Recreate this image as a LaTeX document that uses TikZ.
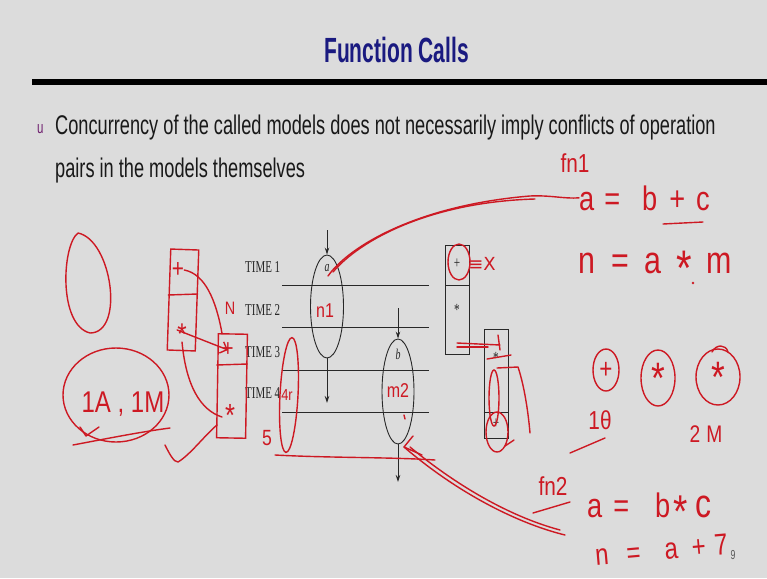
\documentclass[tikz,border=0pt]{standalone}
\usepackage{fontspec}
\usetikzlibrary{shapes.geometric,arrows.meta}
\newfontfamily\titlefont[FakeStretch=0.6]{Liberation Sans}
\newfontfamily\bodyfont[FakeStretch=0.674]{Liberation Sans}
\newfontfamily\timefont[FakeStretch=0.66]{Liberation Serif}
\newfontfamily\handfont[FakeStretch=0.8]{Liberation Sans}
\newfontfamily\symfont{DejaVu Sans}
\definecolor{bg}{RGB}{220,220,220}
\definecolor{navy}{RGB}{26,26,128}
\definecolor{pen}{RGB}{205,25,35}
\definecolor{bul}{RGB}{110,30,110}
\definecolor{prtc}{RGB}{40,40,40}
\newcommand{\hsz}[1]{\handfont\fontsize{#1}{#1}\selectfont}
\newcommand{\hstar}[2]{\raisebox{-#2}{\fontsize{#1}{#1}\selectfont *}}
\begin{document}
\begin{tikzpicture}[x=1pt,y=-1pt,
  ink/.style={draw=pen, line width=1.4pt, line cap=round, line join=round},
  hand/.style={text=pen, inner sep=0pt},
  timelbl/.style={font=\timefont\fontsize{16.6}{17}\selectfont, anchor=base west, inner sep=0pt, text=prtc},
  prt/.style={draw=prtc, line width=0.9pt},
  oval/.style={ellipse, draw=prtc, line width=0.9pt, inner sep=0pt},
  redoval/.style={ellipse, draw=pen, line width=1.4pt, inner sep=0pt},
  sym/.style={font=\timefont\fontsize{17}{17}\selectfont, inner sep=0pt, text=prtc},
  tip/.style={-{Stealth[length=7pt,width=4.5pt]}}
]
\fill[bg] (0,0) rectangle (767,578);
\useasboundingbox (0,0) rectangle (767,578);

% title and rule
\node[font=\titlefont\bfseries\fontsize{35}{35}\selectfont, text=navy, anchor=base, inner sep=0pt] (title) at (396.5,63) {Function Calls};
\fill[black] (32,79) rectangle (767,85);

% bullet text
\node[text=bul, font=\bodyfont\fontsize{17}{17}\selectfont, anchor=base west, inner sep=0pt] (bullet) at (37,133) {u};
\node[font=\bodyfont\fontsize{27}{27}\selectfont, anchor=base west, inner sep=0pt, text=black!90] (line1) at (55,134) {Concurrency of the called models does not necessarily imply conflicts of operation};
\node[font=\bodyfont\fontsize{27}{27}\selectfont, anchor=base west, inner sep=0pt, text=black!90] (line2) at (55,177) {pairs in the models themselves};

% printed diagram
\node[timelbl] (t1) at (245,272) {TIME 1};
\node[timelbl] (t2) at (245,315) {TIME 2};
\node[timelbl] (t3) at (245,357) {TIME 3};
\node[timelbl] (t4) at (245,398) {TIME 4};
\foreach \yy in {285,327.5,370,412} \draw[prt] (282,\yy) -- (429,\yy);

\node[oval, minimum width=33pt, minimum height=103pt] (e1) at (327,306.5) {};
\node[font=\timefont\itshape\fontsize{15}{15}\selectfont, inner sep=0pt, text=prtc] (la) at (327,268) {a};
\coordinate (e1in) at (327,230);
\coordinate (e1out) at (327,403);
\draw[prt,tip] (e1in) -- (e1.north);
\draw[prt,tip] (e1.south) -- (e1out);

\node[oval, minimum width=32pt, minimum height=105pt] (e2) at (398,391.5) {};
\node[font=\timefont\itshape\fontsize{15}{15}\selectfont, inner sep=0pt, text=prtc] (lb) at (398,354) {b};
\coordinate (e2in) at (398,308);
\coordinate (e2out) at (398,482);
\draw[prt,tip] (e2in) -- (e2.north);
\draw[prt,tip] (e2.south) -- (e2out);

\node[prt, rectangle, minimum width=23.5pt, minimum height=109pt, inner sep=0pt] (box1) at (457.5,299.5) {};
\draw[prt] (box1.west |- 0,285) -- (box1.east |- 0,285);
\node[sym] (plus1) at (457,264) {+};
\node[sym] (star1) at (457,310) {*};
\node[prt, rectangle, minimum width=24pt, minimum height=109pt, inner sep=0pt] (box2) at (496,383.5) {};
\draw[prt] (box2.west |- 0,412) -- (box2.east |- 0,412);
\node[sym] (star2) at (496,358) {*};
\node[sym] (plus2) at (496,424) {+};

% page number
\node[font=\bodyfont\fontsize{13}{13}\selectfont, text=black!65, inner sep=0pt] (pgno) at (733,555) {9};

% ---------- red annotations ----------
% left egg
\draw[ink] (78,233) .. controls (62,245) and (58,325) .. (90,333) .. controls (125,333) and (112,240) .. (78,233);
% 1A, 1M
\node[redoval, minimum width=106pt, minimum height=94pt] (c1a) at (116,395) {};
\node[hand, font=\hsz{30}] (t1a) at (123,404) {1A , 1M};
\draw[ink] (73,445) .. controls (110,438) and (140,432) .. (170,428);
\draw[ink] (80,427) -- (86,436) -- (99,427);

% left red boxes
\node[draw=pen, line width=1.4pt, rectangle, minimum width=28pt, minimum height=101pt, inner sep=0pt, rotate=-2] (rb1) at (183,300) {};
\draw[ink] (rb1.west |- 0,295) -- (rb1.east |- 0,294);
\node[hand, font=\hsz{26}] (rp1) at (178,270) {+};
\node[hand, font=\hsz{30}] (rs1) at (182,334) {*};
\node[draw=pen, line width=1.4pt, rectangle, minimum width=29pt, minimum height=104pt, inner sep=0pt, rotate=-1] (rb2) at (232,386) {};
\draw[ink] (rb2.west |- 0,365) -- (rb2.east |- 0,364);
\node[hand, font=\hsz{24}] (rp2) at (228,350) {+};
\node[hand, font=\hsz{32}] (rs2) at (230,415) {*};
\node[hand, font=\hsz{18}] (tN) at (230,308) {N};
\draw[ink] (rp1.east) .. controls (205,274) and (216,300) .. (rb2.north -| 222,0);
\draw[ink, -{Straight Barb[length=6pt]}] (rs1.west |- 0,330) -- (rp2.center);
\draw[ink] (182,342) .. controls (186,385) and (200,410) .. (222,417);
\draw[ink] (165,445) .. controls (170,455) and (174,462) .. (178,462) .. controls (190,455) and (205,435) .. (217,425);

% red narrow oval near TIME 3/4
\node[redoval, minimum width=18pt, minimum height=115pt, rotate=-3] (ro) at (289,395) {};
\node[hand, font=\hsz{16}] (t4r) at (287,395) {4r};
\node[hand, font=\hsz{22}] (t5) at (267,438) {5};
\coordinate (ln1) at (275,455);
\coordinate (ln2) at (435,460);
\draw[ink] (ln1) .. controls (330,458) and (390,457) .. (ln2);

% labels in ovals
\node[hand, font=\hsz{20}] (tn1) at (325,311) {n1};
\node[hand, font=\hsz{20}] (tm2) at (398,391) {m2};
\draw[ink] (404,415) -- (405,419);

% curve from a to fn1 formula
\node[hand, font=\hsz{26}] (fn1) at (575,163) {fn1};
\node[hand, font=\hsz{34}, anchor=base west] (eq1) at (579,210) {a\hspace{10pt}=\hspace{22pt}b\hspace{12pt}+\hspace{11pt}c};
\draw[ink] (328,276) .. controls (350,245) and (420,205) .. (530,196) .. controls (550,195) and (565,199) .. (eq1.west);
\draw[ink] (333,272) .. controls (360,240) and (430,202) .. (535,199);
\draw[ink] (663,224) -- (703,222);
\node[hand, font=\hsz{38}, anchor=base west] (eq2) at (578,273) {n\hspace{16pt}=\hspace{16pt}a\hspace{15pt}\hstar{50}{12pt}\hspace{14pt}m};
\fill[pen] (693,283) circle (1.3);

% box1/box2 annotations
\node[redoval, minimum width=22pt, minimum height=36pt] (rc1) at (459,262) {};
\node[hand, font=\symfont\fontsize{18}{18}\selectfont] (eqx) at (482,264) {≡X};
\draw[ink] (457,343) -- (500,345);
\draw[ink] (457,347) -- (488,347);
\draw[ink] (498,335) -- (500,350);
\draw[ink] (487,359) -- (511,355);
\draw[ink] (497,368) -- (518,367) .. controls (524,385) and (528,410) .. (530,433);
\node[redoval, minimum width=10pt, minimum height=56pt] (rin) at (494,398) {};
\node[redoval, minimum width=22pt, minimum height=40pt] (rc2) at (497,432) {};
\draw[ink] (505,446) -- (514,440);

% circled operators
\node[redoval, minimum width=26pt, minimum height=42pt] (o1) at (606,370) {};
\node[hand, font=\hsz{28}] (o1t) at (o1) {+};
\node[redoval, minimum width=34pt, minimum height=56pt] (o2) at (658,378) {};
\node[hand, font=\hsz{44}] (o2t) at (o2) {*};
\node[redoval, minimum width=44pt, minimum height=56pt] (o3) at (718,377) {};
\node[hand, font=\hsz{44}] (o3t) at (o3) {*};
\draw[ink] (712,352) .. controls (716,344) and (726,344) .. (728,352);
\node[hand, font=\hsz{26}] (t10) at (600,420) {1θ};
\draw[ink] (570,453) -- (605,438);
\node[hand, font=\hsz{24}] (t2m) at (706,434) {2\hspace{6pt}M};

% fn2 formulas
\node[hand, font=\hsz{26}] (fn2) at (553,486) {fn2};
\draw[ink] (533,513) -- (570,502);
\node[hand, font=\hsz{34}, anchor=base west] (eq3) at (587,517) {a\hspace{11pt}=\hspace{26pt}b\hspace{3pt}\hstar{46}{10pt}\hspace{8pt}{\fontsize{40}{40}\selectfont c}};
\node[hand, font=\hsz{30}, anchor=base west, rotate=5] (eq4) at (596,566) {n\hspace{18pt}=\hspace{24pt}a\hspace{14pt}+\hspace{9pt}7};
\coordinate (e2tip) at (404,447);
\draw[ink] (565,535) .. controls (520,524) and (460,495) .. (e2tip);
\draw[ink] (560,530) .. controls (515,518) and (462,490) .. (410,447);
\draw[ink] (413,436) -- (e2tip) -- (422,455);
\end{tikzpicture}
\end{document}
